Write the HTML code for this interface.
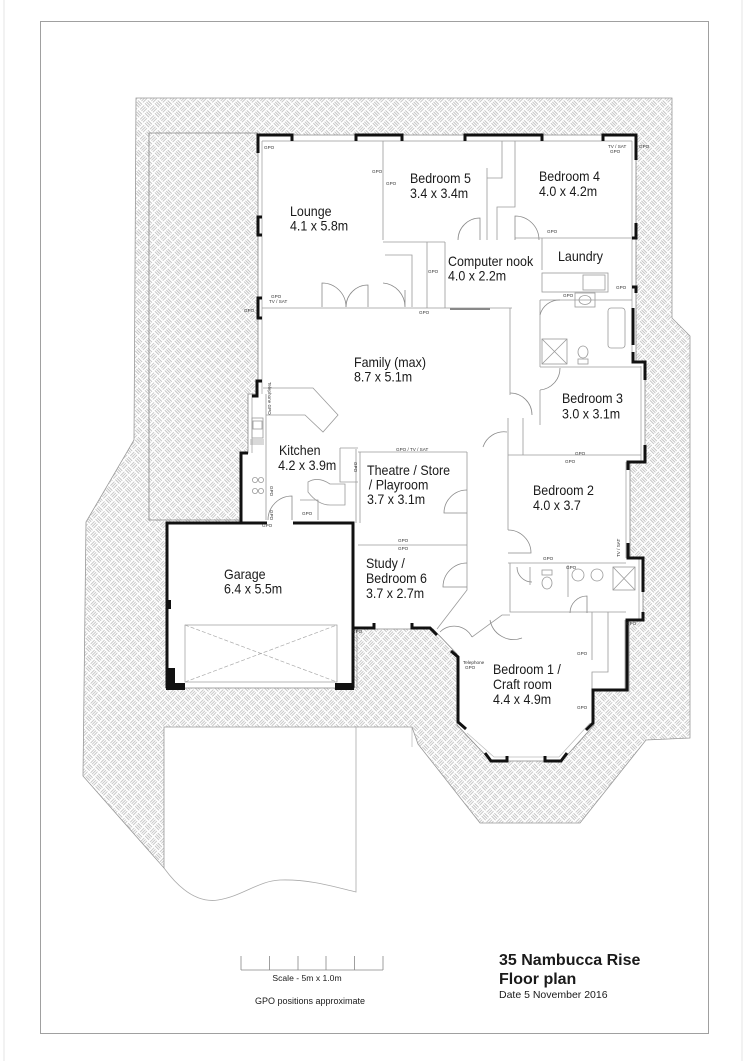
<!DOCTYPE html>
<html><head><meta charset="utf-8">
<style>
html,body{margin:0;padding:0;background:#fff;}
svg{display:block;}
text{font-family:"Liberation Sans",Arial,sans-serif;fill:#1a1a1a;}
.g{font-size:4.6px;fill:#333;}
.r{font-size:14px;}
</style></head><body>
<svg width="750" height="1061" viewBox="0 0 750 1061" xmlns="http://www.w3.org/2000/svg">
<defs>
<pattern id="h" width="14" height="14" patternUnits="userSpaceOnUse" patternTransform="rotate(45)">
<g stroke="#b2b2b2" stroke-width="0.7" fill="none">
<path d="M0.6 1.5H6.4M0.6 3.5H6.4M0.6 5.5H6.4"/>
<path d="M8.5 0.6V6.4M10.5 0.6V6.4M12.5 0.6V6.4"/>
<path d="M1.5 7.6V13.4M3.5 7.6V13.4M5.5 7.6V13.4"/>
<path d="M7.6 8.5H13.4M7.6 10.5H13.4M7.6 12.5H13.4"/>
</g>
</pattern>
</defs>

<!-- page frame -->
<line x1="4" y1="0" x2="4" y2="1061" stroke="#e6e6e6" stroke-width="1"/>
<line x1="742" y1="0" x2="742" y2="1061" stroke="#e6e6e6" stroke-width="1"/>
<rect x="40.5" y="21.5" width="668" height="1012" fill="none" stroke="#a0a0a0" stroke-width="1"/>

<!-- hatched paving -->
<path d="M136,98 L672,98 L672,318 L690,336 L690,738 L646,740 L580,823 L480,823 L418,744 L412,727 L356,727 L164,727 L164,868 L83,776 L86,522 L134,440 Z" fill="url(#h)" stroke="#999" stroke-width="0.8"/>
<!-- patio line -->
<path d="M258,133 H149 V520 H241" fill="none" stroke="#888" stroke-width="0.8"/>
<!-- driveway -->
<path d="M164,868 C180,890 198,903 218,900 C243,896 258,881 280,880 C310,879 335,887 356,892 L356,727" fill="none" stroke="#aaa" stroke-width="0.8"/>
<line x1="412" y1="727" x2="412" y2="747" stroke="#aaa" stroke-width="0.6"/>

<!-- house white footprint -->
<path d="M258,135 L636,135 L636,362 L645,362 L645,462 L630,462 L630,558 L643,558 L643,620 L629,620 L629,691 L594,691 L594,725 L562,761 L491,761 L457,725 L457,654 L433,629 L353,629 L353,688 L167,688 L167,523 L241,523 L241,453 L248,453 L248,394 L258,394 Z" fill="#fff" stroke="#888" stroke-width="0.8"/>

<!-- inner lines of exterior walls (windows) -->
<g stroke="#999" stroke-width="0.7" fill="none">
<path d="M262,141 H632"/>
<path d="M262,141 V394"/>
<path d="M632,141 V362"/>
<path d="M641,366 V462"/>
<path d="M626,462 V558"/>
<path d="M639,558 V620"/>
<path d="M625,620 V691"/>
<path d="M252,394 V453"/>
<path d="M357,629 V688" />
<path d="M467,733 L494,757 H559 L590,723" stroke="#bbb"/>
</g>

<!-- interior walls -->
<g stroke="#9a9a9a" stroke-width="0.8" fill="none">
<path d="M383,141 V240"/>
<path d="M383,242 H445"/>
<path d="M502,141 V178 H487"/>
<path d="M487,168 V240"/>
<path d="M515,141 V207 H497 V240"/>
<path d="M515,238 H632"/>
<path d="M427,242 V308"/>
<path d="M445,242 V308"/>
<path d="M262,308 H512"/>
<path d="M510,308 V395"/>
<path d="M385,255 H412 V307"/>
<path d="M540,300 V367"/>
<path d="M540,367 H641"/>
<path d="M540,390 V425"/>
<path d="M508,418 V455"/>
<path d="M523,418 V455"/>
<path d="M508,455 H641"/>
<path d="M358,452 H467"/>
<path d="M356,449 V523"/>
<path d="M360,452 V523"/>
<path d="M467,452 V545"/>
<path d="M358,545 H467"/>
<path d="M467,545 V590 L437,629"/>
<path d="M508,455 V530"/>
<path d="M508,563 H626"/>
<path d="M510,563 V612 H626"/>
<path d="M530,567 V585"/>
<path d="M568,565 V597"/>
<path d="M472,637 L502,615 H510"/>
<path d="M608,612 V672 H592 V691"/>
<path d="M592,612 V660"/>
<path d="M542,238 V270"/>
<path d="M540,300 H632"/>
<!-- kitchen benches -->
<path d="M263,388 H313 L338,415 L323,432 L305,415 H266"/>
<path d="M266,394 V520"/>
<path d="M340,448 H358 M340,448 V482 H358"/>
<path d="M308,482 Q318,476 330,484 L345,484 V505 H330 Q318,505 308,492 Z"/>
<path d="M300,500 H318 V520"/>
<!-- laundry / bath -->
<rect x="542" y="273" width="66" height="19"/>
<rect x="583" y="275" width="22" height="15"/>
<rect x="575" y="293" width="20" height="14"/>
<ellipse cx="585" cy="300" rx="6" ry="4.5"/>
<rect x="608" y="308" width="17" height="40" rx="3"/>
<rect x="542" y="339" width="25" height="25"/>
<path d="M542,339 L567,364 M567,339 L542,364"/>
<ellipse cx="583" cy="352" rx="5" ry="6"/>
<rect x="578" y="359" width="10" height="5"/>
<!-- ensuite -->
<ellipse cx="547" cy="583" rx="5" ry="6"/>
<rect x="542" y="570" width="10" height="5"/>
<circle cx="578" cy="575" r="6"/>
<circle cx="597" cy="575" r="6"/>
<rect x="613" y="567" width="22" height="23"/>
<path d="M613,567 L635,590 M635,567 L613,590"/>
<!-- kitchen sink / stove -->
<rect x="252" y="418" width="11" height="20"/>
<rect x="253" y="421" width="9" height="8"/>
<circle cx="255" cy="480" r="2.6"/><circle cx="261" cy="480" r="2.6"/>
<circle cx="255" cy="491" r="2.6"/><circle cx="261" cy="491" r="2.6"/>
<path d="M250,440 H264 M250,442 H264 M250,444 H264"/>
</g>

<!-- doors -->
<g stroke="#8a8a8a" stroke-width="0.8" fill="none">
<path d="M322,307 V283 A24,24 0 0 1 346,307"/>
<path d="M368,307 V285 A22,22 0 0 0 346,307"/>
<path d="M383,283 A24,24 0 0 1 405,307 V290"/>
<path d="M480,240 V218 A22,22 0 0 0 458,240"/>
<path d="M515,240 V216 A24,24 0 0 1 539,240"/>
<path d="M540,315 A20,20 0 0 1 560,300"/>
<path d="M540,390 A22,22 0 0 0 560,368"/>
<path d="M510,393 A22,22 0 0 1 532,415"/>
<path d="M507,432 A22,22 0 0 0 483,447"/>
<path d="M467,490 A23,23 0 0 0 444,513 H467"/>
<path d="M508,530 A23,23 0 0 1 531,553 H508"/>
<path d="M467,563 A24,24 0 0 0 443,587 H467"/>
<path d="M268,520 A24,24 0 0 1 292,496 V520"/>
<path d="M517,567 A15,15 0 0 0 532,582"/>
<path d="M570,613 A17,17 0 0 1 587,596 V613"/>
<path d="M440,632 A20,20 0 0 1 472,637"/>
<path d="M490,620 A24,24 0 0 0 522,638"/>
</g>
<line x1="450" y1="309" x2="490" y2="309" stroke="#888" stroke-width="2"/>

<!-- thick black walls -->
<g stroke="#111" stroke-width="3" fill="none" stroke-linejoin="miter">
<path d="M258,153 V135 H292 V141"/>
<path d="M356,141 V135 H402 V141"/>
<path d="M465,141 V135 H542 V141"/>
<path d="M603,141 V135 H636 V160"/>
<path d="M262,217 H258 V235 H262"/>
<path d="M262,298 H258 V318 H262"/>
<path d="M262,381 H257 V396 H252"/>
<path d="M636,223 V238 H632"/>
<path d="M632,287 H636 V293"/>
<path d="M633,308 V345"/>
<path d="M633,352 V362 H645 V380"/>
<path d="M645,445 V462 H628 V470"/>
<path d="M628,543 V558 H643 V592"/>
<path d="M643,612 V620 H627 V690 H593 V723 L586,730"/>
<path d="M248,453 H241 V523 H267"/>
<path d="M293,523 H353 V688"/>
<path d="M241,523 H167 V688"/>
<path d="M353,628 H374 V623"/>
<path d="M412,623 V628 H430 L437,635"/>
<path d="M451,651 L458,657 V722 L466,729"/>
<path d="M485,753 L491,761 H507 V756"/>
<path d="M545,756 V761 H561 L567,753"/>
</g>
<g fill="#111">
<rect x="166" y="668" width="9" height="22"/>
<rect x="166" y="683" width="19" height="7"/>
<rect x="335" y="683" width="19" height="7"/>
<rect x="166" y="600" width="5" height="9"/>
</g>
<!-- garage door -->
<rect x="185" y="625" width="152" height="57" fill="none" stroke="#999" stroke-width="0.7"/>
<path d="M185,682 L337,625 M185,625 L337,682" stroke="#aaa" stroke-width="0.7" stroke-dasharray="4,2"/>

<!-- GPO labels -->
<g class="g">
<text x="264" y="149" class="g">GPO</text>
<text x="372" y="173" class="g">GPO</text>
<text x="386" y="185" class="g">GPO</text>
<text x="271" y="298" class="g">GPO</text>
<text x="269" y="303" class="g">TV / SAT</text>
<text x="244" y="312" class="g">GPO</text>
<text x="419" y="314" class="g">GPO</text>
<text x="428" y="273" class="g">GPO</text>
<text x="547" y="233" class="g">GPO</text>
<text x="563" y="297" class="g">GPO</text>
<text x="616" y="289" class="g">GPO</text>
<text x="608" y="148" class="g">TV / SAT</text>
<text x="610" y="153" class="g">GPO</text>
<text x="639" y="148" class="g">GPO</text>
<text x="396" y="451" class="g">GPO / TV / SAT</text>
<text x="575" y="455" class="g">GPO</text>
<text x="565" y="463" class="g">GPO</text>
<text x="398" y="542" class="g">GPO</text>
<text x="398" y="550" class="g">GPO</text>
<text x="543" y="560" class="g">GPO</text>
<text x="566" y="569" class="g">GPO</text>
<text x="262" y="527" class="g">GPO</text>
<text x="302" y="515" class="g">GPO</text>
<text x="352" y="633" class="g">GPO</text>
<text x="463" y="664" class="g">Telephone</text>
<text x="465" y="669" class="g">GPO</text>
<text x="577" y="655" class="g">GPO</text>
<text x="577" y="709" class="g">GPO</text>
<text x="626" y="625" class="g">GPO</text>
<text class="g" transform="translate(270,486) rotate(90)">GPO</text>
<text class="g" transform="translate(270,510) rotate(90)">GPO</text>
<text class="g" transform="translate(354,462) rotate(90)">GPO</text>
<text class="g" transform="translate(268,382) rotate(90)">Telephone GPO</text>
<text class="g" transform="translate(620,557) rotate(-90)">TV / SAT</text>
</g>

<!-- room labels -->
<g class="r">
<text class="r" transform="translate(290,216) scale(0.89,1)"><tspan x="0" y="0">Lounge</tspan><tspan x="0" y="14.5">4.1 x 5.8m</tspan></text>
<text class="r" transform="translate(410,183) scale(0.89,1)"><tspan x="0" y="0">Bedroom 5</tspan><tspan x="0" y="15">3.4 x 3.4m</tspan></text>
<text class="r" transform="translate(539,181) scale(0.89,1)"><tspan x="0" y="0">Bedroom 4</tspan><tspan x="0" y="15">4.0 x 4.2m</tspan></text>
<text class="r" transform="translate(448,266) scale(0.89,1)"><tspan x="0" y="0">Computer nook</tspan><tspan x="0" y="14.5">4.0 x 2.2m</tspan></text>
<text class="r" transform="translate(558,261) scale(0.89,1)">Laundry</text>
<text class="r" transform="translate(354,367) scale(0.89,1)"><tspan x="0" y="0">Family (max)</tspan><tspan x="0" y="14.5">8.7 x 5.1m</tspan></text>
<text class="r" transform="translate(562,403) scale(0.89,1)"><tspan x="0" y="0">Bedroom 3</tspan><tspan x="0" y="15.5">3.0 x 3.1m</tspan></text>
<text class="r" transform="translate(279,455) scale(0.89,1)"><tspan x="0" y="0">Kitchen</tspan><tspan x="-1" y="15">4.2 x 3.9m</tspan></text>
<text class="r" transform="translate(367,475) scale(0.89,1)"><tspan x="0" y="0">Theatre / Store</tspan><tspan x="2" y="14.5">/ Playroom</tspan><tspan x="0" y="29">3.7 x 3.1m</tspan></text>
<text class="r" transform="translate(533,495) scale(0.89,1)"><tspan x="0" y="0">Bedroom 2</tspan><tspan x="0" y="15">4.0 x 3.7</tspan></text>
<text class="r" transform="translate(224,579) scale(0.89,1)"><tspan x="0" y="0">Garage</tspan><tspan x="0" y="14.5">6.4 x 5.5m</tspan></text>
<text class="r" transform="translate(366,568) scale(0.89,1)"><tspan x="0" y="0">Study /</tspan><tspan x="0" y="15">Bedroom 6</tspan><tspan x="0" y="30">3.7 x 2.7m</tspan></text>
<text class="r" transform="translate(493,674) scale(0.89,1)"><tspan x="0" y="0">Bedroom 1 /</tspan><tspan x="0" y="15">Craft room</tspan><tspan x="0" y="30">4.4 x 4.9m</tspan></text>
</g>

<!-- scale bar -->
<g stroke="#888" stroke-width="0.8" fill="none">
<path d="M241,970 H383"/>
<path d="M241,956 V970 M269.5,956 V970 M298,956 V970 M326,956 V970 M354.5,956 V970 M383,956 V970"/>
</g>
<text x="307" y="981" text-anchor="middle" style="font-size:8.6px">Scale - 5m x 1.0m</text>
<text x="310" y="1004" text-anchor="middle" style="font-size:9px">GPO positions approximate</text>

<!-- title -->
<text x="499" y="965" style="font-size:16px;font-weight:bold">35 Nambucca Rise</text>
<text x="499" y="984" style="font-size:16px;font-weight:bold">Floor plan</text>
<text x="499" y="998" style="font-size:10.5px">Date  5 November 2016</text>
</svg>
</body></html>
